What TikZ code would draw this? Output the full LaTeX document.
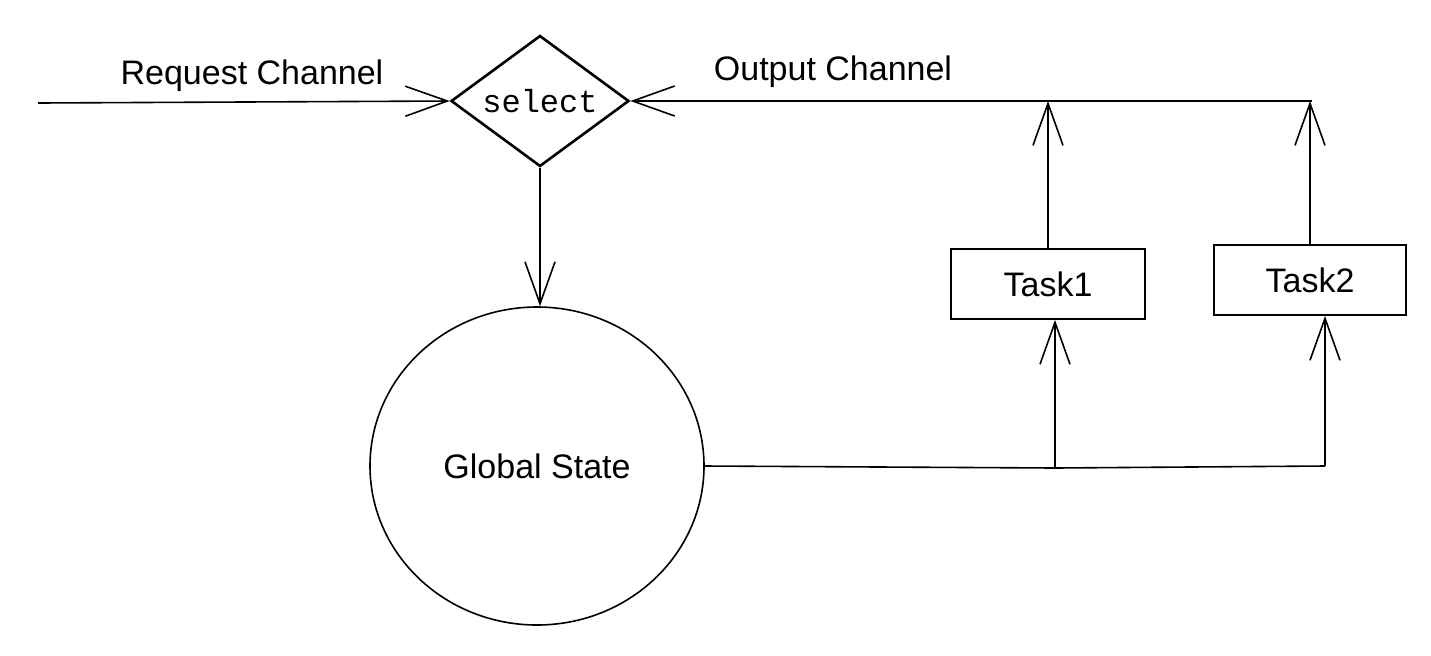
\documentclass[tikz,border=0pt]{standalone}
\usepackage{fontspec}
\setmainfont{Liberation Sans}
\setmonofont{Liberation Mono}
\usetikzlibrary{shapes.geometric,arrows.meta}
\tikzset{
  line/.style={line width=0.8pt, black},
  arr/.style={line, -{Straight Barb[length=21pt,width=15pt,line width=0.8pt]}},
  lbl/.style={font=\fontsize{17}{20}\selectfont, inner sep=0pt},
  taskbox/.style={draw, line width=0.9pt, rectangle, minimum width=97pt, minimum height=35pt, inner sep=0pt, font=\fontsize{17}{20}\selectfont},
}
\begin{document}
\begin{tikzpicture}[x=0.5pt,y=-0.5pt]
\useasboundingbox (0,0) rectangle (1431,655);
\node[draw, line width=1.3pt, diamond, aspect=1.36, minimum width=89pt, minimum height=65.5pt, inner sep=0pt, font=\ttfamily\fontsize{16}{19}\selectfont] (sel) at (540,101) {select};
\node[draw, line width=0.8pt, ellipse, minimum width=167pt, minimum height=159pt, inner sep=0pt, font=\fontsize{17}{20}\selectfont] (gs) at (537,466) {Global State};
\node[taskbox] (task1) at (1048,284) {Task1};
\node[taskbox, minimum width=96pt] (task2) at (1310,280) {Task2};
\node[lbl] (reqlbl) at (252,76) {Request Channel};
\node[lbl] (outlbl) at (833,72) {Output Channel};
\coordinate (reqstart) at (38,103);
\coordinate (outend) at (1312,101);
\coordinate (j1) at (1055,468);
\coordinate (j2) at (1325,466);
\draw[arr] (reqstart) -- (sel.west);
\draw[arr] (outend) -- (sel.east);
\draw[arr] (sel.south) -- (sel.south |- gs.north);
\draw[line] (gs.east) -- (j1);
\draw[line] (j1) -- (j2);
\draw[arr] (j1) -- (j1 |- task1.south);
\draw[arr] (j2) -- (j2 |- task2.south);
\draw[arr] (task1.north) -- (task1.north |- outend);
\draw[arr] (task2.north) -- (task2.north |- outend);
\end{tikzpicture}
\end{document}
